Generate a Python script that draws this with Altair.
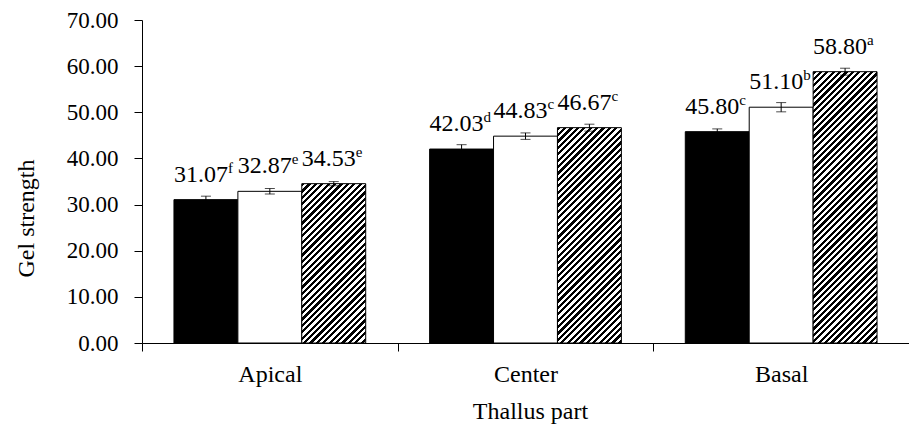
import altair as alt
import pandas as pd

# ---- data ----
parts = ["Apical", "Center", "Basal"]
series = ["Series 1", "Series 2", "Series 3"]
s1 = [31.07, 42.03, 45.80]
s2 = [32.87, 44.83, 51.10]
s3 = [34.53, 46.67, 58.80]
sd1 = [0.75, 0.95, 0.60]
sd2 = [0.60, 0.70, 1.00]
sd3 = [0.45, 0.75, 0.75]
let1 = ["f", "d", "c"]
let2 = ["e", "c", "b"]
let3 = ["e", "c", "a"]
y_ticks = [0, 10, 20, 30, 40, 50, 60, 70]

rows = []
for p_i, p in enumerate(parts):
    for s_i, (name, vals, sds, lets) in enumerate(
        zip(series, [s1, s2, s3], [sd1, sd2, sd3], [let1, let2, let3])
    ):
        v = vals[p_i]
        rows.append(dict(part=p, series=name, value=v, lo=v - sds[p_i], hi=v + sds[p_i],
                         letter=lets[p_i], label=f"{v:.2f}", order=p_i * 3 + s_i))
df = pd.DataFrame(rows)

# ---- layout / style ----
PLOT_W, PLOT_H = 767, 323
FONT = "Liberation Serif"
Y_MAX = 70

x_scale = alt.Scale(domain=parts, paddingInner=0, paddingOuter=0)
y_scale = alt.Scale(domain=[0, Y_MAX], nice=False, zero=True)

x_axis = alt.Axis(title="Thallus part", labelAngle=0, tickSize=8, tickBand="extent",
                  labelPadding=11, labelFont=FONT, labelFontSize=24, labelColor="black",
                  titleFont=FONT, titleFontSize=24, titleFontWeight="normal", titleColor="black",
                  titleX=388, titleY=75, titleBaseline="alphabetic",
                  domainColor="black", tickColor="black", grid=False)
y_axis = alt.Axis(title="Gel strength", values=y_ticks, format=".2f", tickSize=8,
                  labelPadding=16, labelFont=FONT, labelFontSize=23, labelColor="black",
                  titleFont=FONT, titleFontSize=24, titleFontWeight="normal", titleColor="black",
                  titleAngle=270, titleX=-109, titleY=198, titleAlign="center",
                  titleBaseline="alphabetic",
                  domainColor="black", tickColor="black", grid=False)

x_enc = alt.X("part:N", sort=parts, scale=x_scale, axis=x_axis)
xo = alt.XOffset("series:N", sort=series,
                 scale=alt.Scale(domain=series, paddingInner=0, paddingOuter=0.5))


def y_of(field):
    return alt.Y(field, type="quantitative", scale=y_scale, axis=y_axis)


base = alt.Chart(df)

solid = base.transform_filter(alt.datum.series != series[2]).mark_bar(
    stroke="black", strokeWidth=1
).encode(
    x=x_enc, xOffset=xo, y=y_of("value"),
    fill=alt.Fill("series:N", scale=alt.Scale(domain=series[:2], range=["#000000", "#ffffff"]),
                  legend=None),
)

# diagonal hatch of the third series, drawn as a striped linear gradient per bar
PERIOD, DARK = 6.4, 0.5


def hatch(v):
    w = PLOT_W / 3 / 4
    h = v * PLOT_H / Y_MAX
    total = w + h
    k = total / (w * w + h * h)
    stops = []
    s = 0.0
    while s < total:
        a = round(s / total, 5)
        b = round(min((s + PERIOD * DARK) / total, 1), 5)
        c = round(min((s + PERIOD) / total, 1), 5)
        stops += [alt.GradientStop(offset=a, color="#000000"),
                  alt.GradientStop(offset=b, color="#000000"),
                  alt.GradientStop(offset=b, color="#ffffff"),
                  alt.GradientStop(offset=c, color="#ffffff")]
        s += PERIOD
    return alt.LinearGradient(gradient="linear", stops=stops,
                              x1=0, y1=0, x2=round(k * w, 5), y2=round(k * h, 5))


hatched_layers = []
for p_i, p in enumerate(parts):
    hatched_layers.append(
        base.transform_filter((alt.datum.series == series[2]) & (alt.datum.part == p))
        .mark_bar(fill=hatch(s3[p_i]), stroke="black", strokeWidth=1)
        .encode(x=x_enc, xOffset=xo, y=y_of("value"))
    )

err_rule = base.mark_rule(color="black", strokeWidth=1).encode(
    x=x_enc, xOffset=xo, y=y_of("lo"), y2="hi:Q")
cap_lo = base.mark_tick(color="black", orient="horizontal", size=10, thickness=1).encode(
    x=x_enc, xOffset=xo, y=y_of("lo"))
cap_hi = base.mark_tick(color="black", orient="horizontal", size=10, thickness=1).encode(
    x=x_enc, xOffset=xo, y=y_of("hi"))

num_text = base.mark_text(font=FONT, fontSize=24, align="center", baseline="alphabetic",
                          dx=-5, dy=-18, color="black").encode(
    x=x_enc, xOffset=xo, y=y_of("value"), text="label:N")
sup_text = base.mark_text(font=FONT, fontSize=15, align="left", baseline="alphabetic",
                          dx=22, dy=-27, color="black").encode(
    x=x_enc, xOffset=xo, y=y_of("value"), text="letter:N")

chart = alt.layer(
    solid, *hatched_layers, err_rule, cap_lo, cap_hi, num_text, sup_text
).properties(
    width=PLOT_W, height=PLOT_H,
    autosize=alt.AutoSizeParams(type="none"),
    padding={"left": 134, "top": 12, "right": 0, "bottom": 81},
).configure_view(stroke=None)

chart.save("out.html", embed_options={"renderer": "svg", "actions": False})
